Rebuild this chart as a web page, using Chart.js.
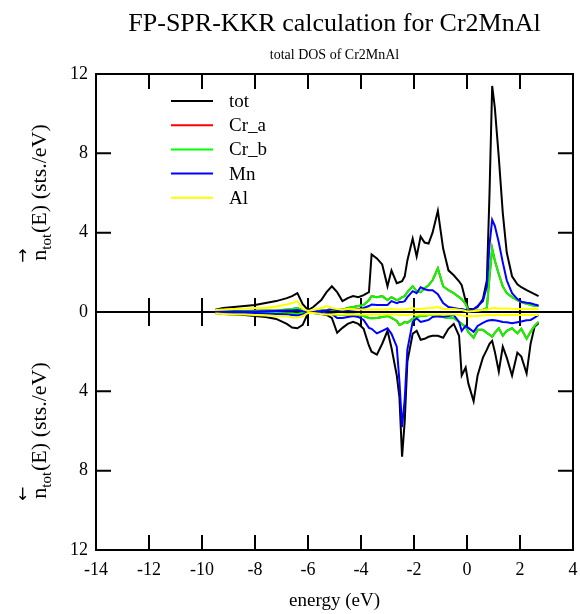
<!DOCTYPE html>
<html>
<head>
<meta charset="utf-8">
<title>Cr2MnAl DOS</title>
<script src="https://cdn.jsdelivr.net/npm/chart.js@4.4.0/dist/chart.umd.min.js"></script>
<style>
  html, body { margin: 0; padding: 0; background: #fff; }
</style>
</head>
<body>
<canvas id="myChart" width="580" height="614"></canvas>
<script>
// energy grid (eV) and DOS values (sts./eV)
const energy = [-9.5, -9.2, -8.8, -8.4, -8.0, -7.6, -7.2, -6.8, -6.6, -6.4,
  -6.2, -6.0, -5.8, -5.5, -5.3, -5.1, -4.9, -4.7, -4.5, -4.3,
  -4.1, -3.9, -3.7, -3.6, -3.4, -3.2, -3.0, -2.85, -2.65, -2.55,
  -2.45, -2.35, -2.25, -2.05, -1.9, -1.75, -1.6, -1.45, -1.3, -1.1,
  -0.9, -0.7, -0.5, -0.3, -0.2, -0.05, 0.05, 0.25, 0.4, 0.6,
  0.75, 0.85, 0.95, 1.05, 1.2, 1.35, 1.5, 1.7, 1.9, 2.05,
  2.25, 2.4, 2.55, 2.7];

const totUp = [0.12, 0.2, 0.25, 0.3, 0.35, 0.45, 0.55, 0.7, 0.8, 0.95,
  0.4, 0.1, 0.25, 0.6, 1.0, 1.3, 1.0, 0.55, 0.7, 0.8,
  0.75, 0.85, 1.0, 2.9, 2.7, 2.4, 1.3, 2.1, 1.45, 1.5,
  1.55, 1.8, 2.6, 3.7, 2.8, 3.8, 3.5, 3.45, 4.0, 5.1,
  3.2, 2.1, 1.85, 1.55, 1.35, 0.55, 0.15, 0.15, 0.25, 0.65,
  1.6, 6.0, 11.4, 10.3, 7.8, 5.0, 3.0, 1.8, 1.4, 1.25,
  1.1, 1.0, 0.9, 0.8];
const totDown = [-0.05, -0.1, -0.12, -0.15, -0.2, -0.25, -0.35, -0.6, -0.78, -0.82,
  -0.65, -0.05, -0.05, -0.1, -0.15, -0.3, -1.05, -0.8, -0.6, -0.5,
  -0.6, -0.85, -1.7, -2.0, -2.15, -1.6, -0.95, -1.8, -3.2, -4.3,
  -7.3, -5.5, -2.5, -1.1, -0.95, -1.4, -1.35, -1.25, -1.2, -1.2,
  -1.3, -0.85, -0.6, -1.2, -3.2, -2.8, -3.6, -4.5, -3.2, -2.3,
  -1.9, -1.6, -1.45, -2.0, -3.0, -1.75, -2.3, -3.2, -2.05, -2.25,
  -3.1, -1.6, -0.75, -0.57];

const crBUp = [0.02, 0.03, 0.04, 0.05, 0.06, 0.07, 0.08, 0.12, 0.15, 0.2,
  0.08, 0.02, 0.03, 0.08, 0.1, 0.12, 0.1, 0.12, 0.2, 0.25,
  0.3, 0.35, 0.6, 0.8, 0.75, 0.8, 0.6, 0.75, 0.6, 0.65,
  0.75, 0.8, 1.0, 1.3, 1.05, 1.0, 1.2, 1.35, 1.6, 2.2,
  1.3, 1.1, 0.95, 0.75, 0.65, 0.4, 0.08, 0.05, 0.08, 0.12,
  0.2, 1.8, 3.2, 2.6, 1.9, 1.3, 0.95, 0.75, 0.6, 0.5,
  0.42, 0.35, 0.32, 0.3];
const crBDown = [-0.01, -0.01, -0.02, -0.02, -0.03, -0.04, -0.05, -0.07, -0.08, -0.1,
  -0.05, 0, -0.02, -0.05, -0.1, -0.1, -0.15, -0.15, -0.12, -0.12,
  -0.15, -0.2, -0.3, -0.32, -0.3, -0.25, -0.2, -0.3, -0.45, -0.66,
  -0.6, -0.5, -0.55, -0.35, -0.25, -0.2, -0.2, -0.15, -0.15, -0.2,
  -0.25, -0.3, -0.3, -0.5, -0.6, -0.75, -1.0, -1.3, -0.9, -0.9,
  -1.05, -1.15, -1.25, -1.05, -0.82, -1.2, -0.95, -0.82, -1.08, -0.85,
  -1.35, -1.0, -0.7, -0.5];

// the red Cr_a curve is never visible: it lies exactly under Cr_b
const crAUp = crBUp;
const crADown = crBDown;

const mnUp = [0.01, 0.01, 0.02, 0.02, 0.03, 0.04, 0.05, 0.07, 0.08, 0.1,
  0.04, 0.01, 0.02, 0.05, 0.08, 0.15, 0.1, 0.08, 0.1, 0.12,
  0.15, 0.2, 0.3, 0.38, 0.35, 0.35, 0.35, 0.55, 0.45, 0.5,
  0.5, 0.55, 0.75, 1.05, 0.95, 1.25, 1.15, 1.1, 1.1, 0.9,
  0.45, 0.25, 0.2, 0.15, 0.15, 0.1, 0.05, 0.15, 0.3, 0.55,
  1.3, 3.4, 4.65, 4.35, 3.5, 2.5, 1.6, 0.95, 0.65, 0.52,
  0.47, 0.44, 0.38, 0.33];
const mnDown = [-0.01, -0.02, -0.03, -0.04, -0.05, -0.07, -0.1, -0.12, -0.15, -0.18,
  -0.12, -0.02, -0.02, -0.05, -0.08, -0.1, -0.3, -0.3, -0.25, -0.2,
  -0.25, -0.4, -0.8, -0.85, -1.08, -0.95, -0.82, -1.1, -1.75, -3.5,
  -5.8, -4.4, -1.9, -0.5, -0.32, -0.5, -0.45, -0.4, -0.25, -0.22,
  -0.24, -0.2, -0.15, -0.5, -0.95, -0.7, -0.8, -1.0, -0.7, -0.55,
  -0.45, -0.42, -0.4, -0.42, -0.45, -0.5, -0.52, -0.57, -0.52, -0.48,
  -0.42, -0.4, -0.28, -0.15];

const alUp = [0.1, 0.12, 0.15, 0.17, 0.2, 0.22, 0.28, 0.38, 0.45, 0.55,
  0.15, 0.05, 0.1, 0.2, 0.3, 0.2, 0.15, 0.12, 0.15, 0.15,
  0.12, 0.12, 0.12, 0.12, 0.12, 0.12, 0.13, 0.15, 0.12, 0.12,
  0.13, 0.13, 0.15, 0.2, 0.15, 0.15, 0.18, 0.2, 0.22, 0.25,
  0.15, 0.15, 0.15, 0.12, 0.1, 0.05, 0.03, 0.05, 0.08, 0.1,
  0.12, 0.15, 0.2, 0.2, 0.18, 0.18, 0.18, 0.16, 0.15, 0.15,
  0.15, 0.15, 0.15, 0.15];
const alDown = [-0.08, -0.1, -0.12, -0.12, -0.15, -0.18, -0.2, -0.22, -0.26, -0.28,
  -0.2, -0.05, -0.05, -0.1, -0.12, -0.12, -0.12, -0.12, -0.12, -0.12,
  -0.12, -0.12, -0.12, -0.12, -0.12, -0.12, -0.12, -0.12, -0.12, -0.15,
  -0.15, -0.15, -0.15, -0.12, -0.12, -0.12, -0.12, -0.12, -0.12, -0.12,
  -0.12, -0.12, -0.12, -0.15, -0.18, -0.2, -0.22, -0.22, -0.2, -0.18,
  -0.15, -0.15, -0.15, -0.15, -0.15, -0.15, -0.15, -0.15, -0.15, -0.15,
  -0.15, -0.15, -0.15, -0.15];

const names = ["tot", "Cr_a", "Cr_b", "Mn", "Al"];
const colors = ["#000000", "#ff0000", "#00ff00", "#0000ff", "#ffff00"];
const upSeries = [totUp, crAUp, crBUp, mnUp, alUp];
const downSeries = [totDown, crADown, crBDown, mnDown, alDown];

const serif = "'Liberation Serif', 'Times New Roman', serif";
Chart.defaults.color = "#000";
Chart.defaults.font.family = serif;

let datasets = [];
names.forEach((name, i) => {
  [upSeries[i], downSeries[i]].forEach((vals) => {
    datasets.push({
      label: name,
      data: energy.map((e, j) => ({ x: e, y: vals[j] })),
      borderColor: colors[i],
      borderWidth: 2,
      pointRadius: 0,
      tension: 0,
      fill: false,
      order: names.length - i // later species drawn on top
    });
  });
});

// rotated axis title; the arrow is drawn with a sideways glyph so that
// after the rotation it points up (spin up) or down (spin down)
function drawYTitle(ctx, cx, cy, arrow) {
  ctx.save();
  ctx.translate(cx, cy);
  ctx.rotate(-Math.PI / 2);
  ctx.fillStyle = "#000";
  ctx.textBaseline = "alphabetic";
  let big = "22px " + serif;
  let small = "15px " + serif;
  let rest = "(E) (sts./eV)";
  ctx.font = big;
  let wn = ctx.measureText("n").width;
  let wr = ctx.measureText(rest).width;
  ctx.font = small;
  let ws = ctx.measureText("tot").width;
  let x0 = -(wn + ws + wr) / 2;
  ctx.font = big;
  ctx.fillText("n", x0, 0);
  ctx.fillText(rest, x0 + wn + ws + 1, 0);
  ctx.font = small;
  ctx.fillText("tot", x0 + wn, 5);
  ctx.font = "17px 'DejaVu Sans', sans-serif";
  ctx.fillText(arrow, x0 - 2, -18);
  ctx.restore();
}

// xmgrace-like frame: inward ticks, zero line, legend in the plot
const dosFrame = {
  id: "dosFrame",
  beforeDatasetsDraw(chart) {
    const { ctx, chartArea: a, scales: { x, y } } = chart;
    let y0 = y.getPixelForValue(0);
    ctx.save();
    ctx.strokeStyle = "#000";
    ctx.lineWidth = 2;
    ctx.beginPath();
    ctx.moveTo(a.left, y0);
    ctx.lineTo(a.right, y0);
    x.ticks.forEach((t) => {
      let px = x.getPixelForValue(t.value);
      ctx.moveTo(px, y0 - 14);
      ctx.lineTo(px, y0 + 14);
    });
    ctx.stroke();
    ctx.restore();
  },
  afterDatasetsDraw(chart) {
    const { ctx, chartArea: a, scales: { x, y } } = chart;
    ctx.save();
    ctx.strokeStyle = "#000";
    ctx.lineWidth = 2;
    ctx.strokeRect(a.left, a.top, a.right - a.left, a.bottom - a.top);
    ctx.beginPath();
    x.ticks.forEach((t) => {
      let px = x.getPixelForValue(t.value);
      ctx.moveTo(px, a.top);
      ctx.lineTo(px, a.top + 15);
      ctx.moveTo(px, a.bottom);
      ctx.lineTo(px, a.bottom - 15);
    });
    y.ticks.forEach((t) => {
      let py = y.getPixelForValue(t.value);
      ctx.moveTo(a.left, py);
      ctx.lineTo(a.left + 15, py);
      ctx.moveTo(a.right, py);
      ctx.lineTo(a.right - 15, py);
    });
    ctx.stroke();

    ctx.font = "19px " + serif;
    ctx.textBaseline = "middle";
    ctx.fillStyle = "#000";
    names.forEach((n, i) => {
      let ly = a.top + 27 + i * 24.2;
      ctx.strokeStyle = colors[i];
      ctx.beginPath();
      ctx.moveTo(a.left + 75, ly);
      ctx.lineTo(a.left + 117, ly);
      ctx.stroke();
      ctx.fillText(n, a.left + 133, ly + 1);
    });
    ctx.restore();
  },
  afterDraw(chart) {
    const { ctx, scales: { y } } = chart;
    drawYTitle(ctx, 46, y.getPixelForValue(6), "\u2192");
    drawYTitle(ctx, 46, y.getPixelForValue(-6), "\u2190");
  }
};

var ctx = document.getElementById("myChart");
var chart = new Chart(ctx, {
  type: "line",
  data: { datasets: datasets },
  options: {
    responsive: false,
    animation: false,
    layout: { padding: { top: 0, right: 7, bottom: 0, left: 0 } },
    plugins: {
      legend: { display: false },
      tooltip: { enabled: false },
      title: {
        display: true,
        fullSize: false,
        text: "FP-SPR-KKR calculation for Cr2MnAl",
        font: { family: serif, size: 26, weight: "normal" },
        color: "#000",
        padding: { top: 9, bottom: 0 }
      },
      subtitle: {
        display: true,
        fullSize: false,
        text: "total DOS of Cr2MnAl",
        font: { family: serif, size: 14, weight: "normal" },
        color: "#000",
        padding: { top: 7, bottom: 10 }
      }
    },
    scales: {
      x: {
        type: "linear",
        min: -14,
        max: 4,
        afterFit: (scale) => {
          scale.height = 64;
          scale.paddingLeft = 0;
          scale.paddingRight = 0;
        },
        grid: { display: false, drawTicks: false },
        border: { display: false },
        ticks: { stepSize: 2, padding: 9, font: { family: serif, size: 18 }, color: "#000" },
        title: {
          display: true,
          text: "energy (eV)",
          font: { family: serif, size: 19 },
          color: "#000",
          padding: { top: 0, bottom: 2 }
        }
      },
      y: {
        min: -12,
        max: 12,
        afterFit: (scale) => { scale.width = 96; },
        grid: { display: false, drawTicks: false },
        border: { display: false },
        ticks: {
          stepSize: 4,
          padding: 8,
          font: { family: serif, size: 18 },
          color: "#000",
          callback: (v) => Math.abs(v)
        }
      }
    }
  },
  plugins: [dosFrame]
});
</script>
</body>
</html>
